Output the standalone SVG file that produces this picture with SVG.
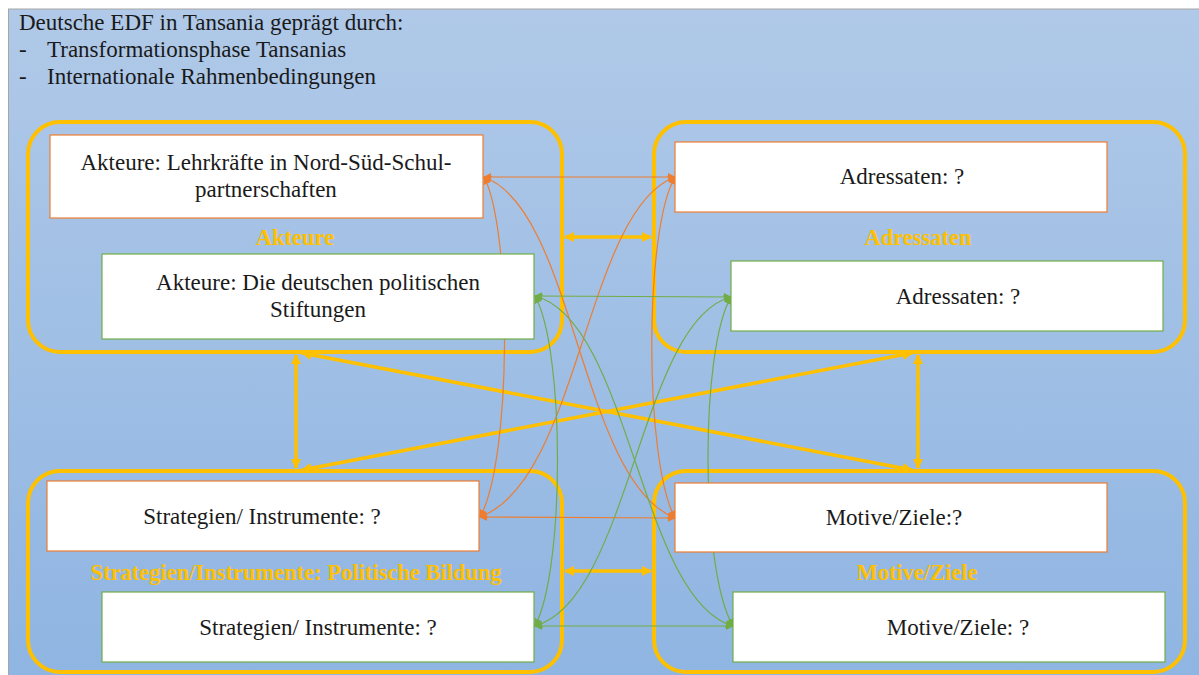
<svg xmlns="http://www.w3.org/2000/svg" width="1199" height="675" viewBox="0 0 1199 675">
<defs>
<linearGradient id="bg" x1="0" y1="0" x2="0" y2="1">
<stop offset="0" stop-color="#b0c9e8"/>
<stop offset="1" stop-color="#8fb5e2"/>
</linearGradient>
<marker id="ya" viewBox="0 0 10 10" refX="9" refY="5" markerWidth="3" markerHeight="3" orient="auto-start-reverse" markerUnits="strokeWidth">
<path d="M0,0 L10,5 L0,10 z" fill="#FFC000"/>
</marker>
<marker id="oa" viewBox="0 0 10 10" refX="9" refY="5" markerWidth="8" markerHeight="8" orient="auto-start-reverse" markerUnits="userSpaceOnUse">
<path d="M0,0 L10,5 L0,10 z" fill="#ED7D31"/>
</marker>
<marker id="ga" viewBox="0 0 10 10" refX="9" refY="5" markerWidth="8" markerHeight="8" orient="auto-start-reverse" markerUnits="userSpaceOnUse">
<path d="M0,0 L10,5 L0,10 z" fill="#70AD47"/>
</marker>
</defs>
<style>
.grp{fill:none;stroke:#FFC000;stroke-width:4}
.nodeO{fill:#ffffff;stroke:#ED7D31;stroke-width:1.2}
.nodeG{fill:#ffffff;stroke:#70AD47;stroke-width:1.2}
.t{font-family:"Liberation Serif","DejaVu Serif",serif;font-size:23px;fill:#1a1a1a}
.lbl{font-family:"Liberation Serif","DejaVu Serif",serif;font-size:22.5px;font-weight:bold;fill:#FFC000}
.ya{fill:none;stroke:#FFC000;stroke-width:3.5;marker-start:url(#ya);marker-end:url(#ya)}
.oc{fill:none;stroke:#ED7D31;stroke-width:1.2;marker-start:url(#oa);marker-end:url(#oa)}
.gc{fill:none;stroke:#70AD47;stroke-width:1.2;marker-start:url(#ga);marker-end:url(#ga)}
</style>
<rect x="0" y="0" width="1199" height="675" fill="#ffffff"/>
<rect id="panel" x="8.5" y="9" width="1191" height="667" fill="url(#bg)" stroke="#a6a6a6" stroke-width="1"/>
<g id="header">
<text class="t" x="19" y="30">Deutsche EDF in Tansania geprägt durch:</text>
<text class="t" x="19" y="57">-</text>
<text class="t" x="47" y="57">Transformationsphase Tansanias</text>
<text class="t" x="19" y="84">-</text>
<text class="t" x="47" y="84">Internationale Rahmenbedingungen</text>
</g>
<g id="group-akteure">
<rect class="grp" x="28" y="122" width="534" height="230" rx="32"/>
<text class="lbl" x="295" y="245" text-anchor="middle">Akteure</text>
</g>
<g id="group-adressaten">
<rect class="grp" x="654" y="122" width="531" height="230" rx="32"/>
<text class="lbl" x="918" y="245" text-anchor="middle">Adressaten</text>
</g>
<g id="group-strategien">
<rect class="grp" x="28" y="471" width="534" height="201" rx="32"/>
<text class="lbl" x="296" y="580" text-anchor="middle">Strategien/Instrumente: Politische Bildung</text>
</g>
<g id="group-motive">
<rect class="grp" x="654" y="471" width="531" height="201" rx="32"/>
<text class="lbl" x="917" y="580" text-anchor="middle">Motive/Ziele</text>
</g>
<g id="connectors">
<line class="ya" x1="565" y1="237" x2="651" y2="237"/>
<line class="ya" x1="565" y1="571" x2="651" y2="571"/>
<line class="ya" x1="296" y1="355" x2="296" y2="468"/>
<line class="ya" x1="918" y1="355" x2="918" y2="468"/>
<line class="ya" x1="302" y1="353" x2="912" y2="470"/>
<line class="ya" x1="302" y1="470" x2="912" y2="353"/>
<line class="oc" x1="484" y1="177" x2="675" y2="177"/>
<line class="oc" x1="480" y1="517" x2="675" y2="518"/>
<path class="oc" d="M484,177 C512,230 512,460 480,517"/>
<path class="oc" d="M675,177 C644,230 644,460 675,518"/>
<path class="oc" d="M484,177 C575,210 580,480 675,518"/>
<path class="oc" d="M675,177 C585,210 580,480 480,517"/>
<line class="gc" x1="535" y1="296" x2="731" y2="297"/>
<line class="gc" x1="535" y1="626" x2="733" y2="626"/>
<path class="gc" d="M535,296 C565,350 565,570 535,626"/>
<path class="gc" d="M731,297 C700,350 700,570 733,626"/>
<path class="gc" d="M535,296 C630,320 640,600 733,626"/>
<path class="gc" d="M731,297 C640,320 630,600 535,626"/>
</g>
<g id="node-akteure-lehrkraefte">
<rect class="nodeO" x="50" y="135" width="433" height="83"/>
<text class="t" x="266" y="170" text-anchor="middle">Akteure: Lehrkräfte in Nord-Süd-Schul-</text>
<text class="t" x="266" y="197" text-anchor="middle">partnerschaften</text>
</g>
<g id="node-akteure-stiftungen">
<rect class="nodeG" x="102" y="254" width="432" height="85"/>
<text class="t" x="318" y="290" text-anchor="middle">Akteure: Die deutschen politischen</text>
<text class="t" x="318" y="317" text-anchor="middle">Stiftungen</text>
</g>
<g id="node-adressaten-1">
<rect class="nodeO" x="675" y="142" width="432" height="70"/>
<text class="t" x="902" y="184" text-anchor="middle">Adressaten: ?</text>
</g>
<g id="node-adressaten-2">
<rect class="nodeG" x="731" y="261" width="432" height="70"/>
<text class="t" x="958" y="304" text-anchor="middle">Adressaten: ?</text>
</g>
<g id="node-strategien-1">
<rect class="nodeO" x="47" y="481" width="432" height="70"/>
<text class="t" x="262" y="524" text-anchor="middle">Strategien/ Instrumente: ?</text>
</g>
<g id="node-strategien-2">
<rect class="nodeG" x="102" y="592" width="432" height="70"/>
<text class="t" x="318" y="635" text-anchor="middle">Strategien/ Instrumente: ?</text>
</g>
<g id="node-motive-1">
<rect class="nodeO" x="675" y="483" width="432" height="69"/>
<text class="t" x="894" y="525" text-anchor="middle">Motive/Ziele:?</text>
</g>
<g id="node-motive-2">
<rect class="nodeG" x="733" y="592" width="432" height="70"/>
<text class="t" x="958" y="635" text-anchor="middle">Motive/Ziele: ?</text>
</g>
</svg>
